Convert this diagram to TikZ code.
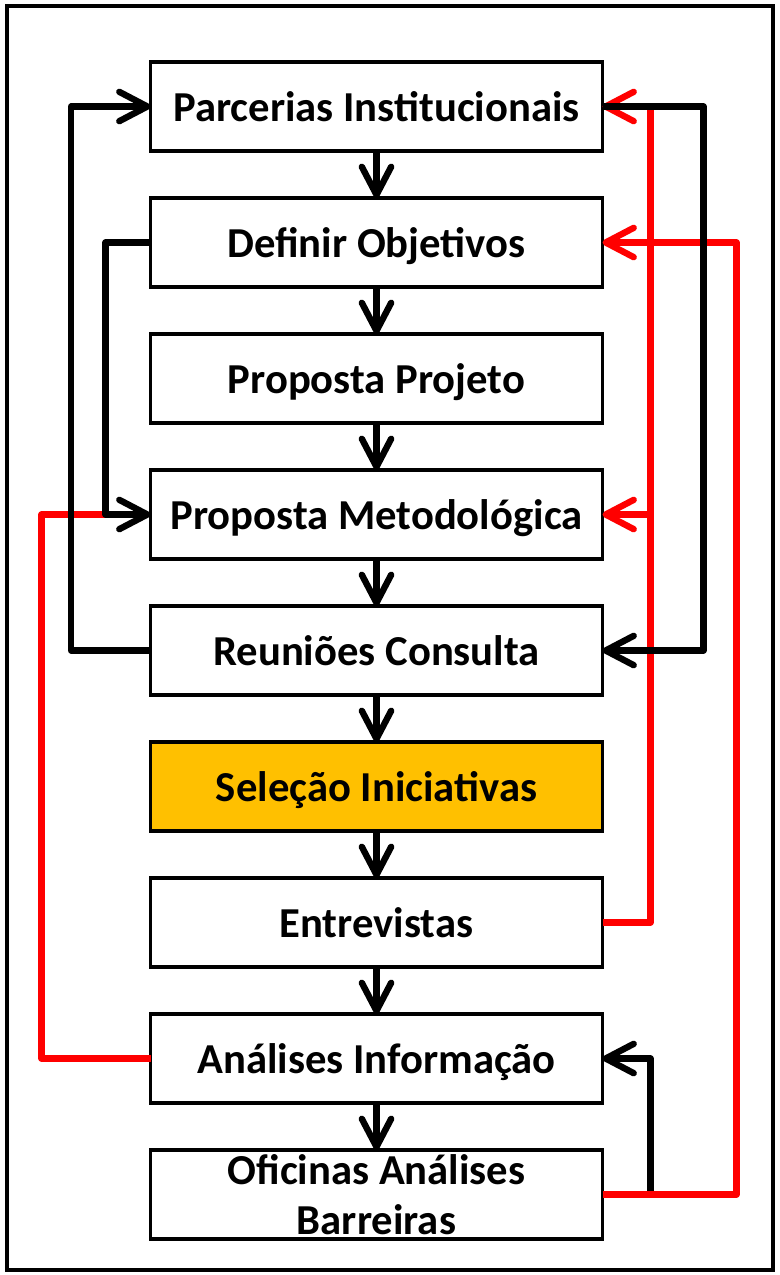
\documentclass[tikz,border=0pt]{standalone}
\usepackage{fontspec}
\setmainfont{Carlito}
\usetikzlibrary{positioning,arrows.meta}
\definecolor{cR}{rgb}{1,0,0}
\definecolor{cO}{HTML}{FFC000}
\newcommand{\lowtext}[1]{\raisebox{-11.5pt}[0pt][0pt]{#1}}
\tikzset{mybox/.style={
  shape=rectangle,
  draw=black,
  fill=white,
  line width=2.8pt,
  minimum width=339pt,
  minimum height=66.75pt,
  inner sep=0pt,
  outer sep=0pt,
  align=center,
  font=\bfseries\fontsize{32}{37.5}\selectfont,
  }
}
\tikzset{myflow/.style={
  draw=black,
  line width=4.8pt,
  line join=round,
  -{Straight Barb[length=21pt,width=22pt,round]},
  }
}
\tikzset{myback/.style={
  draw=cR,
  line width=4.8pt,
  line join=round,
  -{Straight Barb[length=21pt,width=22pt,round]},
  }
}

\begin{document}
\begin{tikzpicture}[x=0.75pt, y=-0.75pt, node distance=35.25pt]
  \useasboundingbox (0,0) rectangle (779,1275);
  \draw [line width=3pt] (7,6) rectangle (773,1270);

  \node [mybox] (par) at (376.5,106.5) {\lowtext{Parcerias Institucionais}};
  \node [mybox, below =of par] (def) {\lowtext{Definir Objetivos}};
  \node [mybox, below =of def] (pro) {\lowtext{Proposta Projeto}};
  \node [mybox, below =of pro] (met) {\lowtext{Proposta Metodológica}};
  \node [mybox, below =of met] (reu) {\lowtext{Reuniões Consulta}};
  \node [mybox, fill=cO, below =of reu] (sel) {\lowtext{Seleção Iniciativas}};
  \node [mybox, below =of sel] (ent) {\lowtext{Entrevistas}};
  \node [mybox, below =of ent] (ana) {\lowtext{Análises Informação}};
  \node [mybox, below =of ana] (ofi) {Oficinas Análises\\Barreiras};

  \path (met.west) ++(-45,0) coordinate (jl);
  \path (met.east) ++(48,0) coordinate (jr);
  \path (ofi.east) ++(48,0) coordinate (jo);

  \draw [myflow] (par) -- (def);
  \draw [myflow] (def) -- (pro);
  \draw [myflow] (pro) -- (met);
  \draw [myflow] (met) -- (reu);
  \draw [myflow] (reu) -- (sel);
  \draw [myflow] (sel) -- (ent);
  \draw [myflow] (ent) -- (ana);
  \draw [myflow] (ana) -- (ofi);

  \draw [myback, -] (ana.west) -- ++(-109,0) |- (jl);
  \draw [myflow] (def.west) -- ++(-45,0) |- (met.west);
  \draw [myflow] (reu.west) -- ++(-79.5,0) |- (par.west);

  \draw [myflow] (jo) |- (ana.east);
  \draw [myback] (ofi.east) -- ++(134,0) |- (def.east);
  \draw [myback] (ent.east) -- ++(48,0) |- (par.east);
  \draw [myback] (jr) -- (met.east);
  \draw [myflow] (par.east) -- ++(101,0) |- (reu.east);
\end{tikzpicture}
\end{document}
